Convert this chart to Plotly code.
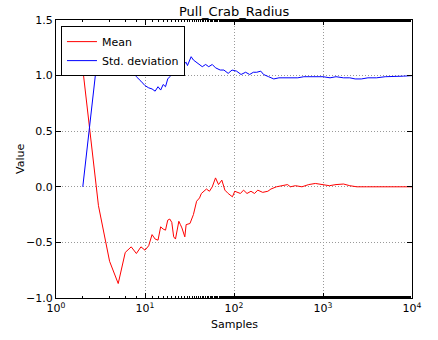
import plotly.graph_objects as go

title = "Pull_Crab_Radius"
x_label = "Samples"
y_label = "Value"

mean_n = [2, 3, 4, 5, 6, 7, 8, 9, 10, 11, 12, 13, 14, 15, 16, 17, 18, 19, 20, 21, 22, 24, 25, 26, 28, 29,
          32, 35, 38, 41, 43, 46, 49, 53, 57, 62, 64, 67, 73, 79, 86, 96, 102, 110, 118, 128, 140, 155,
          170, 185, 210, 240, 260, 300, 350, 400, 430, 490, 580, 690, 820, 980, 1180, 1400, 1700, 2000,
          2400, 3100, 4000, 5200, 6700, 10000]
mean_v = [1.06, -0.17, -0.67, -0.87, -0.59, -0.54, -0.60, -0.54, -0.57, -0.53, -0.43, -0.47, -0.48, -0.36,
          -0.38, -0.39, -0.30, -0.29, -0.32, -0.45, -0.47, -0.31, -0.34, -0.37, -0.45, -0.34,
          -0.33, -0.25, -0.13, -0.10, -0.06, -0.04, -0.02, -0.04, 0.00, 0.08, 0.06, 0.02, 0.06, -0.03,
          -0.06, -0.09, -0.04, -0.05, -0.06, -0.03, -0.06, -0.04, -0.06, -0.03, -0.05, -0.04, -0.02,
          0.00, 0.01, 0.02, 0.00, 0.01, 0.00, 0.02, 0.03, 0.02, 0.01, 0.02, 0.025, 0.01, 0.00, 0.00,
          0.00, 0.00, 0.00, 0.00]

std_n = [2, 3, 4, 5, 6, 7, 8, 9, 10, 11, 12, 13, 14, 15, 16, 17, 18, 19, 20, 21, 22, 24, 25, 27, 29, 30,
         33, 35, 39, 44, 48, 52, 57, 62, 70, 77, 86, 95, 107, 120, 135, 150, 165, 180, 200, 215, 245,
         280, 320, 370, 440, 520, 610, 720, 850, 1000, 1200, 1400, 1700, 2000, 2300, 2700, 3200, 4000,
         5000, 6300, 8000, 10000]
std_v = [0.00, 1.25, 1.22, 1.13, 1.13, 1.05, 0.99, 0.95, 0.91, 0.89, 0.88, 0.86, 0.90, 0.87, 0.92, 0.90,
         0.97, 0.99, 1.01, 1.08, 1.07, 1.15, 1.12, 1.10, 1.12, 1.09, 1.17, 1.14, 1.11, 1.08, 1.10, 1.08,
         1.10, 1.07, 1.05, 1.05, 1.02, 1.05, 1.04, 1.01, 1.03, 1.01, 1.03, 1.03, 1.04, 1.01, 0.99,
         0.97, 0.98, 0.98, 0.98, 0.98, 0.99, 0.99, 0.99, 0.99, 0.98, 0.99, 0.98, 0.98, 0.97, 0.97,
         0.98, 0.98, 0.99, 0.99, 0.995, 1.00]

x_tickvals = [1, 10, 100, 1000, 10000]
x_ticktext = ["10<sup>0</sup>", "10<sup>1</sup>", "10<sup>2</sup>", "10<sup>3</sup>", "10<sup>4</sup>"]
y_tickvals = [-1.0, -0.5, 0.0, 0.5, 1.0, 1.5]
y_ticktext = ["−1.0", "−0.5", "0.0", "0.5", "1.0", "1.5"]

font = "DejaVu Sans"

fig = go.Figure()
fig.add_trace(go.Scatter(x=mean_n, y=mean_v, mode="lines", name="Mean",
                         line=dict(color="#ff0000", width=1)))
fig.add_trace(go.Scatter(x=std_n, y=std_v, mode="lines", name="Std. deviation",
                         line=dict(color="#0000ff", width=1)))

axis_common = dict(showline=True, linecolor="black", linewidth=1, mirror="allticks",
                   ticks="inside", ticklen=5, tickcolor="black", showgrid=True,
                   gridcolor="#999999", griddash="1px,2px", gridwidth=1, zeroline=False,
                   automargin=False,
                   tickfont=dict(family=font, size=11, color="black"))

fig.update_xaxes(type="log", range=[0, 4], tickvals=x_tickvals, ticktext=x_ticktext,
                 minor=dict(ticks="inside", ticklen=2, tickcolor="black", showgrid=False),
                 **axis_common)
fig.update_yaxes(range=[-1.0, 1.5], tickvals=y_tickvals, ticktext=y_ticktext,
                 **axis_common)

fig.add_annotation(text=title, x=0.5, y=1, xref="paper", yref="paper", xanchor="center",
                   yanchor="bottom", yshift=-1, showarrow=False,
                   font=dict(family=font, size=13, color="black"))
fig.add_annotation(text=x_label, x=0.5, y=0, xref="paper", yref="paper", xanchor="center",
                   yanchor="top", yshift=-18, showarrow=False,
                   font=dict(family=font, size=11, color="black"))
fig.add_annotation(text=y_label, x=0, y=0.5, xref="paper", yref="paper", xanchor="center",
                   yanchor="middle", xshift=-36, textangle=-90, showarrow=False,
                   font=dict(family=font, size=11, color="black"))

fig.update_layout(
    width=438, height=340,
    margin=dict(l=56, r=26, t=20, b=42),
    paper_bgcolor="white", plot_bgcolor="white",
    font=dict(family=font, color="black"),
    showlegend=True,
    legend=dict(x=0.014, y=0.978, xanchor="left", yanchor="top", bgcolor="white",
                bordercolor="black", borderwidth=1,
                font=dict(family=font, size=11, color="black"),
                itemwidth=30),
)

fig.write_html("out.html", config={"displayModeBar": False},
               post_script="document.body.style.margin='0';")
